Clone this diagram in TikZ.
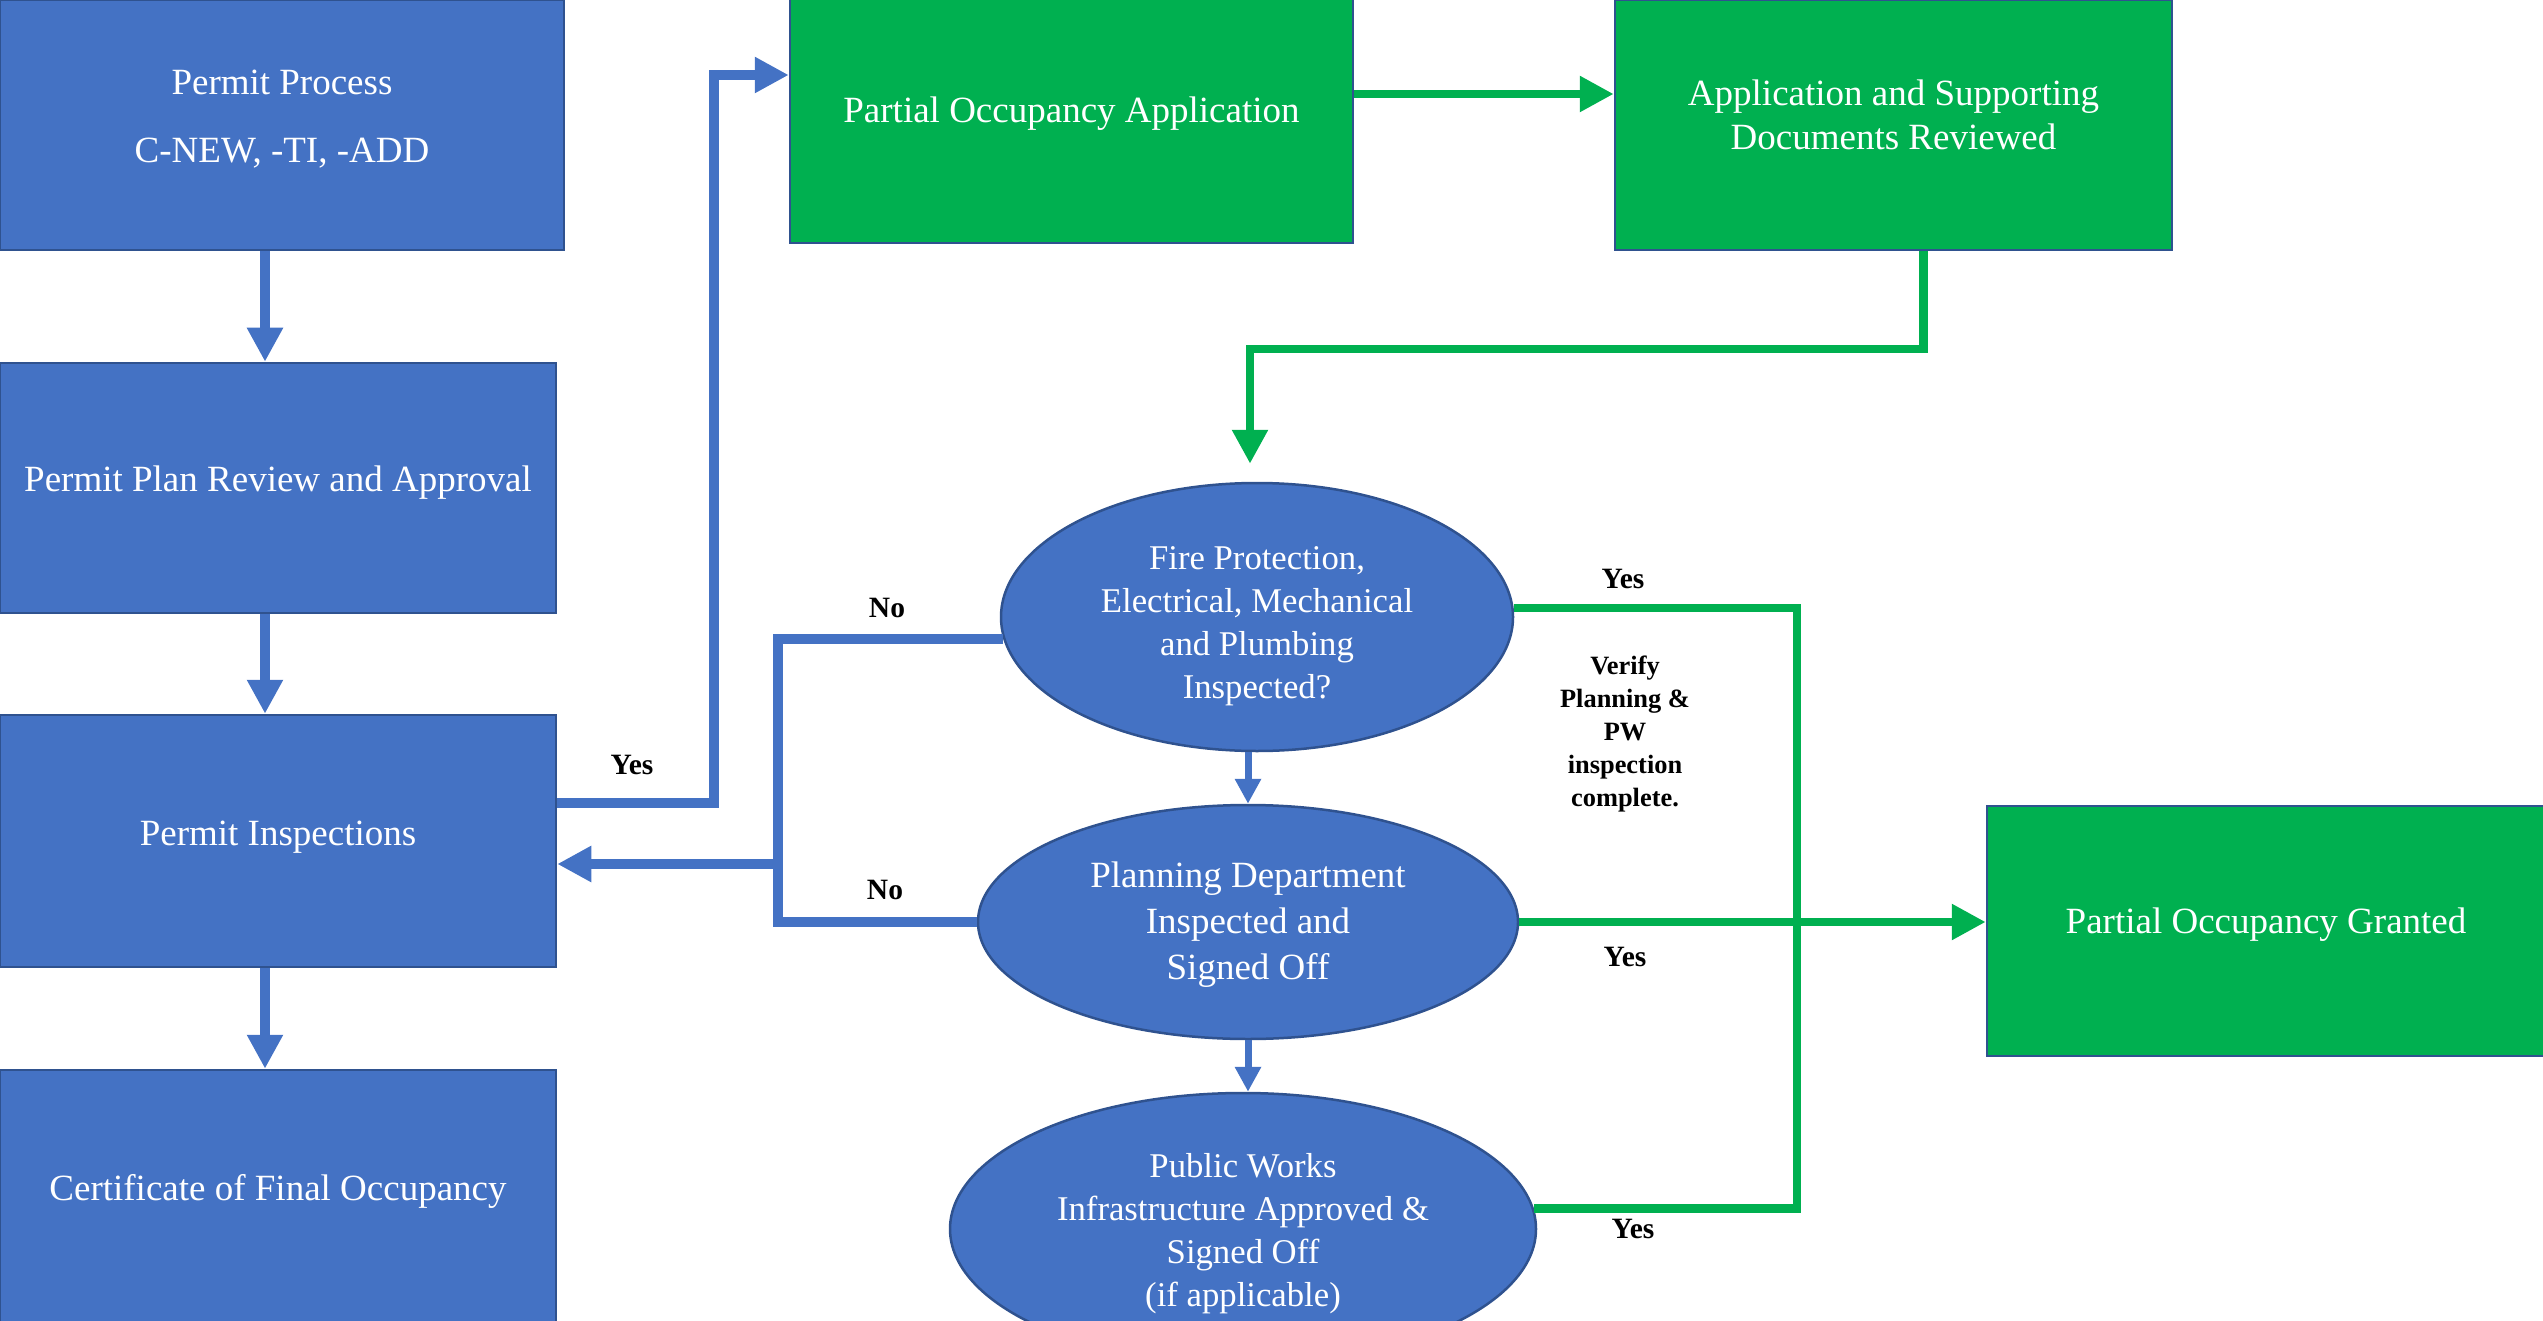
\documentclass[tikz,border=0pt]{standalone}
\usepackage{fontspec}
\setmainfont{Liberation Serif}
\usetikzlibrary{arrows.meta,shapes.geometric}
\definecolor{bfill}{HTML}{4472C4}
\definecolor{bline}{HTML}{2F528F}
\definecolor{gfill}{HTML}{00B050}
\newcommand{\mytxt}[2]{\raisebox{#1}[0pt][0pt]{\begin{tabular}[b]{@{}c@{}}#2\end{tabular}}}
\begin{document}
\begin{tikzpicture}[x=1pt,y=-1pt,
  box/.style={draw=bline, line width=2.5pt, rectangle, inner sep=0pt, text=white, font=\fontsize{37}{43}\selectfont},
  bbox/.style={box, fill=bfill},
  gbox/.style={box, fill=gfill},
  oval/.style={ellipse, draw=bline, line width=2.5pt, fill=bfill, inner sep=0pt, text=white, font=\fontsize{34.7}{43}\selectfont},
  bluec/.style={draw=bfill, line width=10.5pt},
  greenc/.style={draw=gfill, line width=8.5pt},
  thinc/.style={draw=bfill, line width=7pt},
  bigtip/.style={-{Triangle[width=34pt,length=34pt]}},
  smalltip/.style={-{Triangle[width=25pt,length=25pt]}},
  lab/.style={font=\fontsize{29.5}{33}\selectfont\bfseries, text=black},
  note/.style={font=\fontsize{26.4}{33}\selectfont\bfseries, align=center, text=black}
]
\useasboundingbox (0,0) rectangle (2543,1321);

% boxes
\node[bbox, minimum width=564pt, minimum height=250pt] (b1) at (282,125) {\mytxt{-37.5pt}{Permit Process\\[25pt]C-NEW, -TI, -ADD}};
\node[bbox, minimum width=556pt, minimum height=250pt] (b2) at (278,488) {\mytxt{-3.8pt}{Permit Plan Review and Approval}};
\node[bbox, minimum width=556pt, minimum height=252pt] (b3) at (278,841) {\mytxt{-4.3pt}{Permit Inspections}};
\node[bbox, minimum width=556pt, minimum height=260pt] (b4) at (278,1200) {\mytxt{-0.6pt}{Certificate of Final Occupancy}};
\node[gbox, minimum width=563pt, minimum height=246pt] (bA) at (1071.5,120) {\mytxt{-2.1pt}{Partial Occupancy Application}};
\node[gbox, minimum width=557pt, minimum height=250pt, font=\fontsize{37}{44}\selectfont] (bB) at (1893.5,125) {\mytxt{-24.7pt}{Application and Supporting\\Documents Reviewed}};
\node[gbox, minimum width=558pt, minimum height=250pt] (bC) at (2266,931) {\mytxt{-2.1pt}{Partial Occupancy Granted}};

% ellipses
\node[oval, minimum width=512pt, minimum height=268pt] (e1) at (1257,617) {\mytxt{-81pt}{Fire Protection,\\Electrical, Mechanical\\and Plumbing\\Inspected?}};
\node[oval, minimum width=540pt, minimum height=234pt, font=\fontsize{37}{46}\selectfont] (e2) at (1248,922) {\mytxt{-57.4pt}{Planning Department\\Inspected and\\Signed Off}};
\node[oval, minimum width=586pt, minimum height=272pt] (e3) at (1243,1229) {\mytxt{-77pt}{Public Works\\Infrastructure Approved \&\\Signed Off\\(if applicable)}};

% helper coordinates
\coordinate (ax) at (265,0);
\coordinate (nx) at (778,0);
\coordinate (yx) at (714,0);
\coordinate (gy) at (0,349);
\coordinate (gx) at (1250,0);
\coordinate (vx) at (1797,0);
\coordinate (yA) at ([yshift=45pt]bA.west);
\coordinate (nY) at ([yshift=-23pt]b3.east);
\coordinate (gt) at ([yshift=18pt]e1.north);

% left column
\draw[bluec, bigtip] (b1.south -| ax) -- (b2.north -| ax);
\draw[bluec, bigtip] (b2.south -| ax) -- (b3.north -| ax);
\draw[bluec, bigtip] (b3.south -| ax) -- (b4.north -| ax);

% yes to partial occupancy application
\draw[bluec, bigtip] ([yshift=38pt]b3.east) -| (yx |- yA) -- (yA);

% no paths
\draw[bluec] (e1.185) -| (nx |- e2.west) -- (e2.west);
\draw[bluec, bigtip] (nx |- nY) -- (nY);

% green top flow
\draw[greenc, bigtip] ([yshift=26pt]bA.east) -- ([yshift=26pt]bA.east -| bB.west);
\draw[greenc, bigtip] ([xshift=30pt]bB.south) |- (gx |- gy) -- (gx |- gt);

% between ellipses
\draw[thinc, smalltip] (e2.north |- e1.south) -- (e2.north);
\draw[thinc, smalltip] (e2.south) -- (e2.south |- e3.north);

% green yes paths
\draw[greenc] (e1.2) -| (vx |- e3.4) -- (e3.4);
\draw[greenc, bigtip] (e2.east) -- (e2.east -| bC.west);

% labels
\node[lab] (no1) at (887,608) {No};
\node[lab] (no2) at (885,890) {No};
\node[lab] (yes0) at (632,765) {Yes};
\node[lab] (yes1) at (1623,579) {Yes};
\node[lab] (yes2) at (1625,957) {Yes};
\node[lab] (yes3) at (1633,1229) {Yes};
\node[note] (verify) at (1625,734) {Verify\\Planning \&\\PW\\inspection\\complete.};
\end{tikzpicture}
\end{document}
